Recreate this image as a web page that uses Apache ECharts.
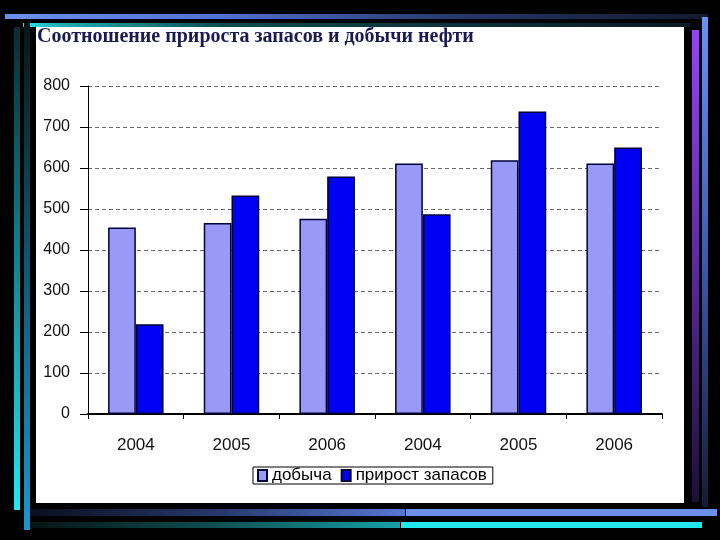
<!DOCTYPE html>
<html><head><meta charset="utf-8">
<script src="https://cdn.jsdelivr.net/npm/echarts@6/dist/echarts.min.js"></script>
<style>html,body{margin:0;padding:0;background:#000}#c{width:720px;height:540px}</style>
</head><body><div id="c"></div>
<script>
// ---- data ----
const categories = ['2004', '2005', '2006', '2004', '2005', '2006'];
const production = [455, 466, 476, 611, 619, 611];      // добыча
const reserveGrowth = [219, 533, 579, 487, 738, 650];   // прирост запасов
const seriesNames = ['добыча', 'прирост запасов'];
const titleText = 'Соотношение прироста запасов и добычи нефти';
const yMin = 0, yMax = 800, yStep = 100;

// ---- decoration helpers ----
function grad(x0, y0, x1, y1, stops) {
  return new echarts.graphic.LinearGradient(x0, y0, x1, y1,
    stops.map(s => ({ offset: s[0], color: s[1] })));
}
function bar(x, y, w, h, fill) {
  return { type: 'rect', z: -10, silent: true, shape: { x: x, y: y, width: w, height: h }, style: { fill: fill } };
}
const decor = [
  // white slide panel
  bar(36, 27, 648, 476, '#ffffff'),
  // top lines
  bar(5, 14, 703, 5, grad(0, 0, 1, 0, [[0, '#6b8ff0'], [0.3, '#5371d0'], [0.65, '#25366a'], [1, '#121a2e']])),
  bar(23, 23, 667, 4, grad(0, 0, 1, 0, [[0, '#2ee6ea'], [0.05, '#1fb0b8'], [0.3, '#0f4a50'], [1, '#0a1a22']])),
  // left verticals
  bar(14, 27, 6, 483, grad(0, 0, 0, 1, [[0, '#0b2c30'], [0.5, '#118692'], [1, '#22e8f2']])),
  bar(24, 23, 6, 507, grad(0, 0, 0, 1, [[0, '#071616'], [0.5, '#0f5a78'], [1, '#1a98cc']])),
  // bottom lines
  bar(30, 509, 375, 7, grad(0, 0, 1, 0, [[0, '#0a0f1e'], [0.5, '#26386c'], [1, '#5676d4']])),
  bar(406, 509, 311, 7, '#6a90ea'),
  bar(30, 522, 370, 6, grad(0, 0, 1, 0, [[0, '#061414'], [0.5, '#0e4f52'], [1, '#17a0a6']])),
  bar(401, 522, 301, 6, '#22e6f0'),
  // right verticals
  bar(692, 30, 7, 472, grad(0, 0, 0, 1, [[0, '#9344f2'], [0.5, '#5a2a98'], [1, '#1c1034']])),
  bar(702, 17, 6, 490, grad(0, 0, 0, 1, [[0, '#6a92f2'], [0.5, '#3c5aa8'], [1, '#141c34']]))
];

const chart = echarts.init(document.getElementById('c'), null, { renderer: 'canvas' });
chart.setOption({
  animation: false,
  backgroundColor: '#000000',
  graphic: { elements: decor },
  title: {
    text: titleText, left: 37, top: 27, padding: 0,
    textStyle: { fontFamily: 'Liberation Serif', fontWeight: 'bold', fontSize: 20, color: '#1b1b52' }
  },
  legend: {
    data: seriesNames, left: 253, top: 467, padding: [0, 6, 0, 4],
    borderColor: '#000', borderWidth: 1, backgroundColor: '#fff',
    icon: 'rect', itemWidth: 9, itemHeight: 11, itemGap: 9,
    textStyle: { fontFamily: 'Liberation Sans', fontSize: 17, color: '#000', padding: [0, 0, 0, 0] }
  },
  grid: { left: 88, right: 58, top: 86, bottom: 126, containLabel: false },
  xAxis: {
    type: 'category', data: categories,
    axisLine: { lineStyle: { color: '#000', width: 2 } },
    axisTick: { show: true, length: 5, lineStyle: { color: '#000', width: 1 } },
    axisLabel: { margin: 23, fontFamily: 'Liberation Sans', fontSize: 17, color: '#111' }
  },
  yAxis: {
    type: 'value', min: yMin, max: yMax, interval: yStep,
    axisLine: { show: true, lineStyle: { color: '#000', width: 1 } },
    axisTick: { show: true, length: 8, lineStyle: { color: '#000', width: 1 } },
    axisLabel: { margin: 18, fontFamily: 'Liberation Sans', fontSize: 16, color: '#111' },
    splitLine: { show: true, lineStyle: { color: '#6a6a6a', width: 1, type: [4, 3] } }
  },
  series: [
    {
      name: seriesNames[0], type: 'bar', data: production,
      barGap: '0%', barCategoryGap: '42%',
      itemStyle: { color: '#9999f8', borderColor: '#00003a', borderWidth: 1.5 }
    },
    {
      name: seriesNames[1], type: 'bar', data: reserveGrowth,
      barGap: '0%', barCategoryGap: '42%',
      itemStyle: { color: '#0000f2', borderColor: '#00003a', borderWidth: 1.5 }
    }
  ]
});
</script>
</body></html>
